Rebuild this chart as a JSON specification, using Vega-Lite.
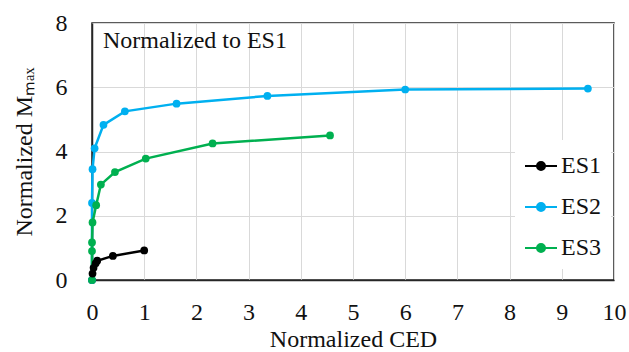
{
  "$schema": "https://vega.github.io/schema/vega-lite/v6.json",
  "width": 522,
  "height": 257,
  "autosize": {"type": "none"},
  "padding": {"left": 92, "top": 23, "right": 15, "bottom": 72},
  "background": "white",
  "config": {
    "font": "Liberation Serif",
    "view": {"stroke": "#262626", "strokeWidth": 1.5},
    "axis": {
      "labelFont": "Liberation Serif",
      "titleFont": "Liberation Serif",
      "labelFontSize": 24,
      "titleFontSize": 24,
      "labelColor": "#111",
      "titleColor": "#111",
      "titleFontWeight": "normal",
      "gridColor": "#d9d9d9",
      "gridWidth": 1,
      "domainColor": "#262626",
      "domainWidth": 1.5,
      "ticks": false
    },
    "legend": {"labelFont": "Liberation Serif", "labelFontSize": 24}
  },
  "title": {
    "text": "Normalized to ES1",
    "anchor": "start",
    "frame": "group",
    "orient": "top",
    "font": "Liberation Serif",
    "fontSize": 24,
    "fontWeight": "normal",
    "color": "#111",
    "baseline": "alphabetic",
    "dx": 11,
    "dy": 36,
    "offset": -25
  },
  "data": {
    "values": [
      {"series": "ES1", "i": 0, "ced": 0, "m": 0},
      {"series": "ES1", "i": 1, "ced": 0.01, "m": 0.2},
      {"series": "ES1", "i": 2, "ced": 0.03, "m": 0.38},
      {"series": "ES1", "i": 3, "ced": 0.07, "m": 0.52},
      {"series": "ES1", "i": 4, "ced": 0.1, "m": 0.6},
      {"series": "ES1", "i": 5, "ced": 0.4, "m": 0.75},
      {"series": "ES1", "i": 6, "ced": 1.0, "m": 0.92},
      {"series": "ES2", "i": 0, "ced": 0, "m": 0},
      {"series": "ES2", "i": 1, "ced": 0, "m": 2.4},
      {"series": "ES2", "i": 2, "ced": 0.01, "m": 3.45},
      {"series": "ES2", "i": 3, "ced": 0.05, "m": 4.1},
      {"series": "ES2", "i": 4, "ced": 0.22, "m": 4.83},
      {"series": "ES2", "i": 5, "ced": 0.63, "m": 5.25},
      {"series": "ES2", "i": 6, "ced": 1.62, "m": 5.49},
      {"series": "ES2", "i": 7, "ced": 3.36, "m": 5.73},
      {"series": "ES2", "i": 8, "ced": 6.0, "m": 5.93},
      {"series": "ES2", "i": 9, "ced": 9.5, "m": 5.96},
      {"series": "ES3", "i": 0, "ced": 0, "m": 0},
      {"series": "ES3", "i": 1, "ced": 0, "m": 0.9},
      {"series": "ES3", "i": 2, "ced": 0, "m": 1.17},
      {"series": "ES3", "i": 3, "ced": 0.01, "m": 1.79},
      {"series": "ES3", "i": 4, "ced": 0.08, "m": 2.33},
      {"series": "ES3", "i": 5, "ced": 0.17, "m": 2.97},
      {"series": "ES3", "i": 6, "ced": 0.44, "m": 3.36},
      {"series": "ES3", "i": 7, "ced": 1.03, "m": 3.78},
      {"series": "ES3", "i": 8, "ced": 2.31, "m": 4.25},
      {"series": "ES3", "i": 9, "ced": 4.56, "m": 4.5}
    ]
  },
  "mark": {"type": "line", "strokeWidth": 2.5, "point": {"filled": true, "size": 60, "opacity": 1}},
  "encoding": {
    "x": {
      "field": "ced", "type": "quantitative",
      "scale": {"domain": [0, 10], "nice": false},
      "axis": {"title": "Normalized  CED", "values": [0,1,2,3,4,5,6,7,8,9,10], "labelFont": "Liberation Serif", "labelFontSize": 24, "labelPadding": 20, "titlePadding": 3, "labelFlush": false}
    },
    "y": {
      "field": "m", "type": "quantitative",
      "scale": {"domain": [0, 8], "nice": false},
      "axis": {"title": "Normalized Mₘₐₓ", "values": [0,2,4,6,8], "labelFont": "Liberation Serif", "labelFontSize": 24, "labelPadding": 25, "titlePadding": 19}
    },
    "order": {"field": "i", "type": "quantitative"},
    "color": {
      "field": "series", "type": "nominal",
      "scale": {"domain": ["ES1", "ES2", "ES3"], "range": ["#000000", "#00B0F0", "#00B050"]},
      "legend": {
        "title": null,
        "orient": "none",
        "legendX": 423,
        "legendY": 117,
        "fillColor": "white",
        "padding": 9,
        "rowPadding": 12,
        "labelFont": "Liberation Serif",
        "labelFontSize": 24,
        "labelColor": "#111",
        "labelOffset": 3,
        "symbolType": "M-1,0H1M0.25,0A0.25,0.25,0,1,1,-0.25,0A0.25,0.25,0,1,1,0.25,0Z",
        "symbolSize": 1024,
        "symbolStrokeWidth": 2,
        "encode": {"symbols": {"update": {"fill": {"scale": "color", "field": "value"}, "stroke": {"scale": "color", "field": "value"}}}}
      }
    }
  }
}
